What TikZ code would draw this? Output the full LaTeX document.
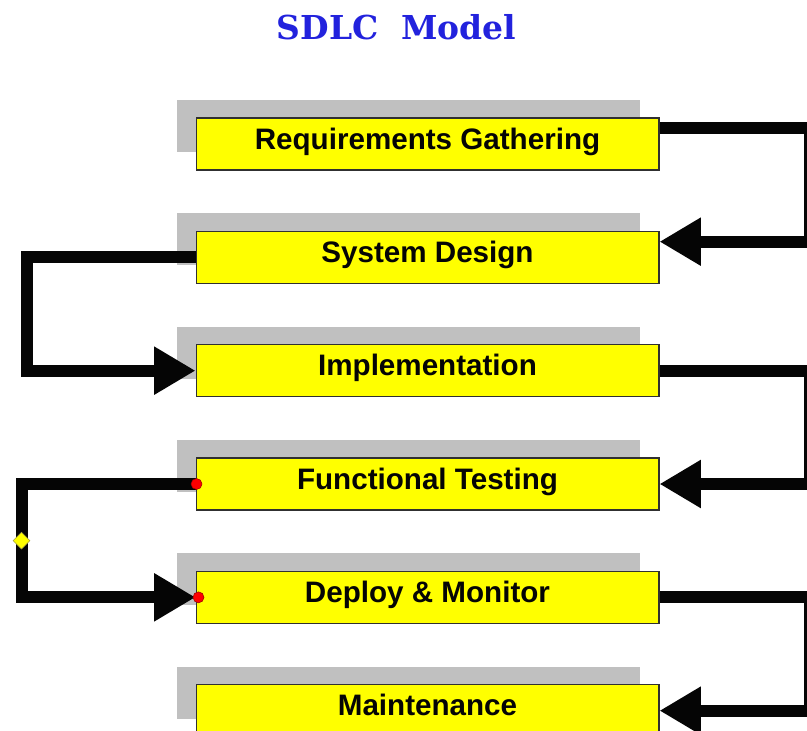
\documentclass[tikz,border=0pt]{standalone}
\usepackage{fontspec}
\setsansfont{Liberation Sans}
\newfontfamily\titlefont{DejaVu Serif}
\usetikzlibrary{arrows.meta,positioning,calc,shapes.geometric,shadows}
\definecolor{stagefill}{HTML}{FFFF00}
\definecolor{stageline}{HTML}{303030}
\definecolor{shadegray}{HTML}{C0C0C0}
\definecolor{titleblue}{HTML}{2222DD}
\definecolor{dotred}{HTML}{FF0000}
\definecolor{inkblack}{HTML}{050505}

\begin{document}
\begin{tikzpicture}[
  x=0.75pt, y=-0.75pt,
  stage/.style = {draw=stageline, fill=stagefill, line width=1pt, minimum width=347pt,
                  minimum height=39pt, inner sep=0pt, text height=15.9pt, text depth=8pt,
                  font=\sffamily\bfseries\fontsize{22.2}{26}\selectfont, text=inkblack,
                  drop shadow={shadow xshift=-14.25pt, shadow yshift=13.5pt, fill=shadegray, opacity=1}},
  flow/.style  = {-{Triangle[length=31pt, width=34pt]}, line width=9pt, draw=inkblack},
  title/.style = {font=\titlefont\bfseries\fontsize{24.7}{28}\selectfont, text=titleblue,
                  inner sep=0pt, text height=18pt, text depth=0pt},
  pin/.style   = {circle, fill=dotred, draw=red!60!black, line width=0.4pt, minimum size=8.25pt, inner sep=0pt},
  knot/.style  = {diamond, aspect=1, fill=stagefill, draw=yellow!60!black, line width=0.4pt,
                  minimum width=12.75pt, minimum height=12.75pt, inner sep=0pt},
]
\useasboundingbox (0,0) rectangle (807,731);

% ---------- heading ----------
\node[title] (head) at (396.5,28) {SDLC\ \ Model};

% ---------- the six stages ----------
\node[stage] (req) at (427.5,144) {Requirements Gathering};
\node[stage, below=45pt of req]    (design) {System Design};
\node[stage, below=45pt of design] (impl)   {Implementation};
\node[stage, below=45pt of impl]   (ftest)  {Functional Testing};
\node[stage, below=45pt of ftest]  (deploy) {Deploy \& Monitor};
\node[stage, below=45pt of deploy] (maint)  {Maintenance};

% ---------- rails ----------
\coordinate (rail)  at (810,0);
\coordinate (lrail) at (26.5,0);
\coordinate (mrail) at (21.5,0);
\coordinate (reqout) at ($(req.north east)+(0,11)$);
\coordinate (desin)  at ($(design.north east)+(0,11)$);

% ---------- flow ----------
\draw[flow] (reqout) -- (reqout -| rail) |- (desin);
\draw[flow] (design.west) -- (design.west -| lrail) |- (impl.west);
\draw[flow] (impl.east) -- (impl.east -| rail) |- (ftest.east);
\draw[flow] (ftest.west) -- (ftest.west -| mrail) |- (deploy.west);
\draw[flow] (deploy.east) -- (deploy.east -| rail) |- (maint.east);

% ---------- markers ----------
\node[pin] (pa) at ([xshift=0.75pt]ftest.west) {};
\node[pin] (pb) at ([xshift=2.25pt]deploy.west) {};
\node[knot] (kn) at ($(ftest.west -| mrail)!0.5!(deploy.west -| mrail)$) {};

\end{tikzpicture}
\end{document}
